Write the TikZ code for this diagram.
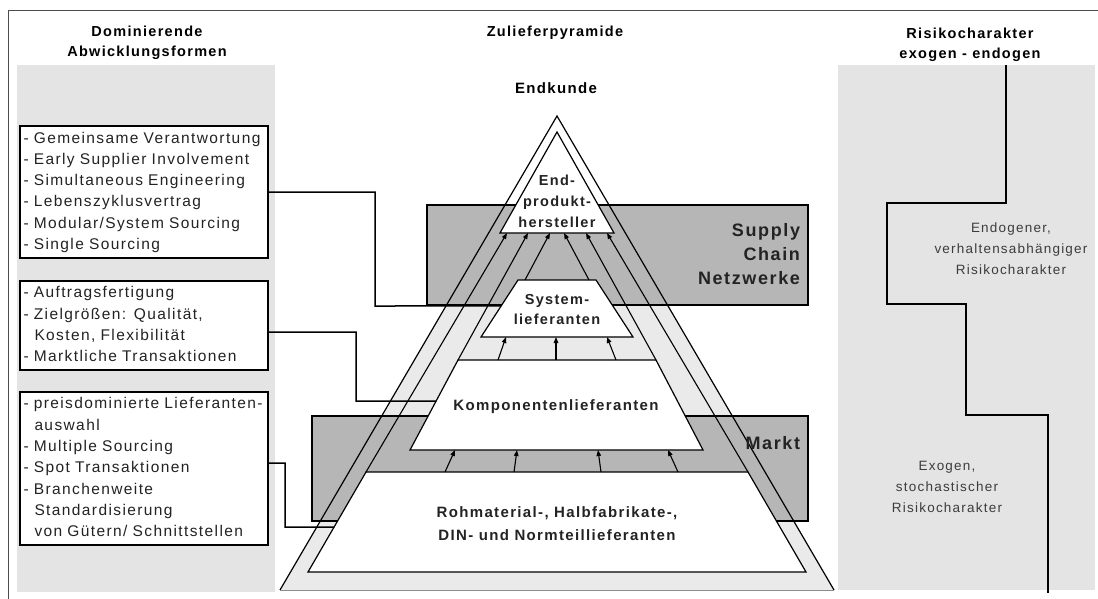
\documentclass[tikz,border=0pt]{standalone}
\usepackage{fontspec}
\setmainfont{Liberation Sans}[LetterSpace=9]
\usetikzlibrary{arrows.meta,calc}
\definecolor{panelgray}{RGB}{228,228,228}
\definecolor{boxgray}{RGB}{182,182,182}
\definecolor{pyrgray}{RGB}{234,234,234}
\definecolor{txtdark}{RGB}{35,35,35}
\definecolor{txtsoft}{RGB}{60,60,60}
\newcommand{\lstfnt}{\fontsize{15.5}{21.3}\selectfont}
\newcommand{\cont}{\hspace*{11pt}}
\newenvironment{itemlines}{\begin{tabular}{@{}l@{}}}{\end{tabular}}
\begin{document}
\begin{tikzpicture}[x=1pt,y=-1pt,
  every node/.style={inner sep=0pt, outer sep=0pt},
  listbox/.style={draw=black, line width=1.6pt, fill=white, align=left,
    inner xsep=3.5pt, inner ysep=2pt, text width=241pt, minimum width=248pt, font=\lstfnt, text=txtdark},
  band/.style={draw=black, line width=1.4pt, fill=boxgray},
  tier/.style={draw=black, line width=1.2pt, fill=white, line join=miter},
  arr/.style={line width=1.1pt, -{Triangle[length=6pt,width=4.5pt]}},
  link/.style={line width=1.5pt, black},
  head/.style={font=\bfseries\fontsize{14.5}{20}\selectfont, align=center},
  tierlbl/.style={font=\bfseries\fontsize{14.5}{21}\selectfont, align=center, text=txtdark},
  bandlbl/.style={font=\bfseries\fontsize{18}{24}\selectfont, align=right, anchor=east, text=txtdark},
  risk/.style={font=\fontsize{13.5}{21}\selectfont, align=center, text=txtsoft},
]
\useasboundingbox (0,0) rectangle (1098,599);

% frame lines
\draw[black!70, line width=1pt] (8,599) -- (8,11) -- (1098,11);

% side panels
\fill[panelgray] (17,65) rectangle (275,592);
\fill[panelgray] (838,65) rectangle (1095,590);

% column headings
\node[head] (hdrL) at (147,43) {Dominierende\\Abwicklungsformen};
\node[head] (hdrM) at (555,33) {Zulieferpyramide};
\node[head] (hdrR) at (970,45) {\fontsize{14.5}{24}\selectfont Risikocharakter\\exogen - endogen};
\node[head, font=\bfseries\fontsize{15}{20}\selectfont] (endk) at (556,88) {Endkunde};

% pyramid body, shaded below the supply chain band only
\begin{scope}
  \clip (0,300) rectangle (1098,599);
  \fill[pyrgray] (557,116) -- (834,590) -- (280,590) -- cycle;
\end{scope}

% horizontal bands
\node[band, minimum width=381pt, minimum height=100pt] (scn) at (617.5,255) {};
\node[band, minimum width=496pt, minimum height=105pt] (mkt) at (560,468.5) {};

% tiers
\coordinate (eA) at (557,132);
\coordinate (eL) at (500,233);
\coordinate (eR) at (614,233);
\coordinate (sTL) at (518,280);
\coordinate (sTR) at (596,280);
\coordinate (sBR) at (633,337);
\coordinate (sBL) at (481,337);
\coordinate (kTL) at (458,360);
\coordinate (kTR) at (656,360);
\coordinate (kBR) at (703,450);
\coordinate (kBL) at (410,450);
\coordinate (rTL) at (366,472);
\coordinate (rTR) at (748,472);
\coordinate (rBR) at (806,572);
\coordinate (rBL) at (308,572);

\draw[tier] (eA) -- (eR) -- (eL) -- cycle;
\draw[tier] (sTL) -- (sTR) -- (sBR) -- (sBL) -- cycle;
\draw[tier] (kTL) -- (kTR) -- (kBR) -- (kBL) -- cycle;
\draw[tier] (rTL) -- (rTR) -- (rBR) -- (rBL) -- cycle;

\node[tierlbl] (endp) at (557,201) {End-\\produkt-\\hersteller};
\node[tierlbl, font=\bfseries\fontsize{14.5}{20}\selectfont] (sys) at (557,310) {System-\\lieferanten};
\node[tierlbl, font=\bfseries\fontsize{15}{20}\selectfont] (komp) at (556,407) {Komponentenlieferanten};
\node[tierlbl, font=\bfseries\fontsize{15}{23}\selectfont] (roh) at (557,524) {Rohmaterial-, Halbfabrikate-,\\DIN- und Normteillieferanten};

% supply arrows into the end producer
\draw[arr] (rTL) -- (507,233);
\draw[arr] (kTL) -- (528,233);
\draw[arr] (525,280) -- (550,233);
\draw[arr] (589,280) -- (564,233);
\draw[arr] (kTR) -- (586,233);
\draw[arr] (rTR) -- (607,233);

% components to system suppliers
\draw[arr] (498,360) -- (506,337);
\draw[arr] (556,360) -- (556,337);
\draw[arr] (616,360) -- (607,337);

% raw material to components
\draw[arr] (445,472) -- (455,450);
\draw[arr] (514,472) -- (517,450);
\draw[arr] (601,472) -- (598,450);
\draw[arr] (678,472) -- (668,450);

% pyramid outline
\draw[line width=1.2pt, line join=miter] (280,590) -- (557,116) -- (834,590);
\draw[line width=1pt, black!45] (280,590) -- (834,590);

% band labels
\node[bandlbl] (scnlbl) at (800,254) {Supply\\Chain\\Netzwerke};
\node[bandlbl] (mktlbl) at (800,443) {Markt};

% forms of coordination
\node[listbox, minimum height=130pt] (box1) at (144,192) {\begin{itemlines}
- Gemeinsame Verantwortung\\
- Early Supplier Involvement\\
- Simultaneous Engineering\\
- Lebenszyklusvertrag\\
- Modular/System Sourcing\\
- Single Sourcing
\end{itemlines}};
\node[listbox, minimum height=87pt] (box2) at (144,325.5) {\begin{itemlines}
- Auftragsfertigung\\
- Zielgrößen: Qualität,\\
\cont Kosten, Flexibilität\\
- Marktliche Transaktionen
\end{itemlines}};
\node[listbox, minimum height=151pt] (box3) at (144,468.5) {\begin{itemlines}
- preisdominierte Lieferanten-\\
\cont auswahl\\
- Multiple Sourcing\\
- Spot Transaktionen\\
- Branchenweite\\
\cont Standardisierung\\
\cont von Gütern/ Schnittstellen
\end{itemlines}};

% links from the lists to the tiers
\coordinate (sysIn) at ($(sTL)!0.456!(sBL)$);
\coordinate (kompIn) at ($(kTL)!0.456!(kBL)$);
\coordinate (rohIn) at ($(rTL)!0.55!(rBL)$);
\coordinate (b1) at (375,306);
\coordinate (b2) at (356,401);
\coordinate (b3) at (285,527);
\draw[link] (box1.east) -| (b1) -- (sysIn);
\draw[link] ($(box2.east)+(0,6.5)$) -| (b2) -- (kompIn);
\draw[link] ($(box3.east)+(0,-5.5)$) -| (b3) -- (rohIn);

% risk character
\draw[line width=1.5pt] (1006,65) -- (1006,203) -- (887,203) -- (887,304)
  -- (966,304) -- (966,415) -- (1048,415) -- (1048,593);
\node[risk] (endo) at (1011,249) {Endogener,\\verhaltensabhängiger\\Risikocharakter};
\node[risk] (exo) at (947,487) {Exogen,\\stochastischer\\Risikocharakter};
\end{tikzpicture}
\end{document}
